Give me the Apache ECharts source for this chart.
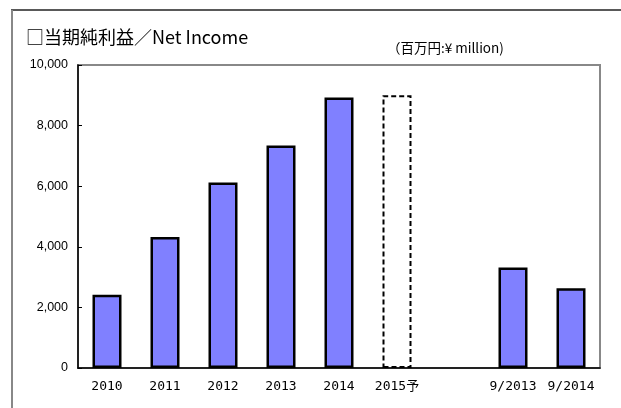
<!DOCTYPE html>
<html>
<head>
<meta charset="utf-8">
<script src="https://cdn.jsdelivr.net/npm/echarts@6/dist/echarts.min.js"></script>
<style>
  html, body { margin: 0; padding: 0; background: #fff; }
  #chart { width: 621px; height: 408px; }
</style>
</head>
<body>
<div id="chart"></div>
<script>
// 年度ラベル（空欄は区切り用）
var categories = ['2010', '2011', '2012', '2013', '2014', '2015予', '', '9/2013', '9/2014'];
// 当期純利益（百万円）
var netIncome = [2420, 4320, 6120, 7340, 8930, 9000, null, 3320, 2630];
// 予想値のインデックス
var forecastIndex = 5;
var yTicks = [0, 2000, 4000, 6000, 8000, 10000];

window.onload = function () {
    var myChart = echarts.init(document.getElementById('chart'));
    var font = '"Noto Sans CJK JP", "Noto Sans", sans-serif';

    var barData = netIncome.map(function (v, i) {
        if (i === forecastIndex) {
            return {
                value: v,
                itemStyle: { color: '#fff', borderColor: '#000', borderWidth: 2, borderType: [5, 3] }
            };
        }
        return v;
    });

    var option = {
        animation: false,
        textStyle: { fontFamily: font },
        graphic: [
            // 外枠
            { type: 'line', shape: { x1: 11, y1: 10, x2: 621, y2: 10 }, style: { stroke: '#222', lineWidth: 1.5 } },
            { type: 'line', shape: { x1: 12, y1: 10, x2: 12, y2: 408 }, style: { stroke: '#888', lineWidth: 2 } },
            {
                type: 'text', left: 26, top: 28,
                style: { text: '□当期純利益／Net Income', fill: '#000', font: '18px ' + font }
            },
            {
                type: 'text', left: 387, top: 41,
                style: { text: '（百万円:¥ million)', fill: '#000', font: '13.5px ' + font }
            }
        ],
        grid: {
            left: 78, right: 21, top: 65, bottom: 40,
            show: true, borderColor: '#888', borderWidth: 2, backgroundColor: '#fff'
        },
        xAxis: {
            type: 'category',
            data: categories,
            axisLine: { lineStyle: { color: '#000', width: 1.5 } },
            axisTick: { inside: true, length: 4, lineStyle: { color: '#000' } },
            axisLabel: {
                color: '#000', fontSize: 13, margin: 12, interval: 0,
                fontFamily: '"DejaVu Sans Mono", "Noto Sans CJK JP", monospace'
            }
        },
        yAxis: {
            type: 'value',
            min: yTicks[0],
            max: yTicks[yTicks.length - 1],
            interval: yTicks[1] - yTicks[0],
            axisLine: { show: true, lineStyle: { color: '#000', width: 1.5 } },
            axisTick: { show: true, inside: true, length: 4, lineStyle: { color: '#000' } },
            splitLine: { show: false },
            axisLabel: {
                color: '#000', fontSize: 12.5, margin: 10,
                fontFamily: '"Liberation Sans", Arial, sans-serif',
                formatter: function (v) { return v.toLocaleString('en-US'); }
            }
        },
        series: [
            {
                type: 'bar',
                data: barData,
                barWidth: '50%',
                itemStyle: { color: '#8080ff', borderColor: '#000', borderWidth: 2.5 }
            }
        ]
    };
    myChart.setOption(option);
};
</script>
</body>
</html>
